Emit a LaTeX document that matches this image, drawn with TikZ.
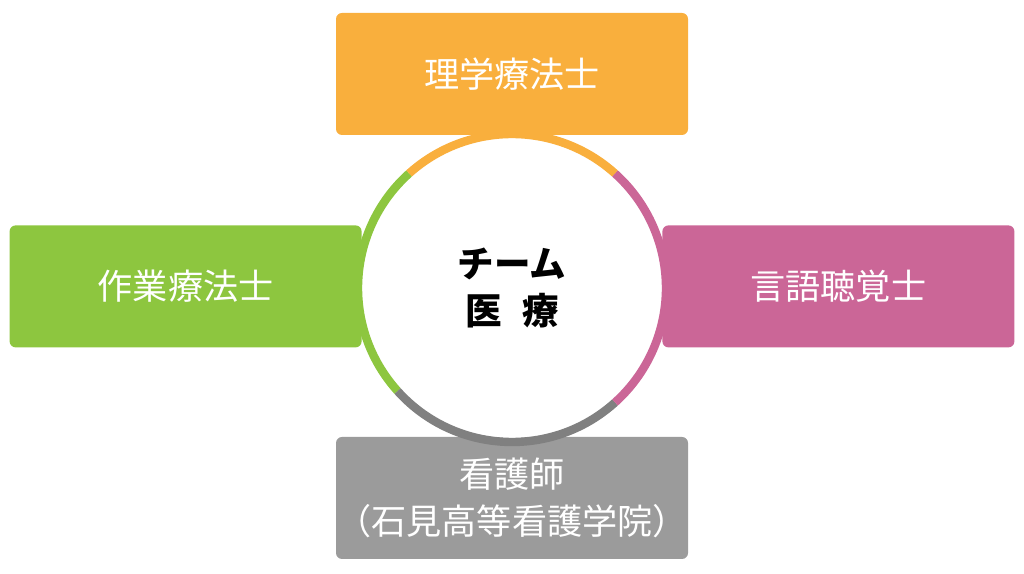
\documentclass[tikz,border=0pt]{standalone}
\usepackage{fontspec}
\setmainfont{Noto Sans CJK JP}
\usetikzlibrary{positioning}
\definecolor{ptOrange}{HTML}{F9AF3D}
\definecolor{otGreen}{HTML}{8DC63F}
\definecolor{stPink}{HTML}{CB6697}
\definecolor{nsGray}{HTML}{9B9B9B}
\definecolor{ringGray}{HTML}{808080}

\begin{document}
\begin{tikzpicture}[
    role/.style={rectangle, rounded corners=0.15cm, minimum width=8.8cm,
                 minimum height=3.05cm, inner sep=0pt, text=white,
                 font=\fontsize{25}{33}\selectfont, align=center},
    hub/.style={circle, fill=white, minimum size=7.5cm, inner sep=0pt,
                font=\fontsize{26}{33}\selectfont\bfseries, align=center},
    ring/.style={line width=0.21cm},
  ]
    \useasboundingbox (0,0) rectangle (25.6,14.35);

    % ─── the four professions ───
    \node[role, fill=ptOrange] (pt) at (12.8, 12.5) {理学療法士};
    \node[role, fill=otGreen]  (ot) at (4.64, 7.19) {作業療法士};
    \node[role, fill=stPink]   (st) at (20.96, 7.19) {言語聴覚士};
    \node[role, fill=nsGray]   (ns) at (12.8, 1.9)
      {看護師\\（石見高等看護学院）};

    % ─── centre circle ───
    \node[hub] (team) at (12.8, 7.15) {チーム\\医\hspace{0.55em}療};

    % ─── coloured ring ───
    \draw[ring, ptOrange] (team.center) ++(48:3.85)  arc[start angle=48,  end angle=132, radius=3.85];
    \draw[ring, otGreen]  (team.center) ++(132:3.85) arc[start angle=132, end angle=222, radius=3.85];
    \draw[ring, ringGray] (team.center) ++(222:3.85) arc[start angle=222, end angle=312, radius=3.85];
    \draw[ring, stPink]   (team.center) ++(312:3.85) arc[start angle=312, end angle=408, radius=3.85];
  \end{tikzpicture}
\end{document}
